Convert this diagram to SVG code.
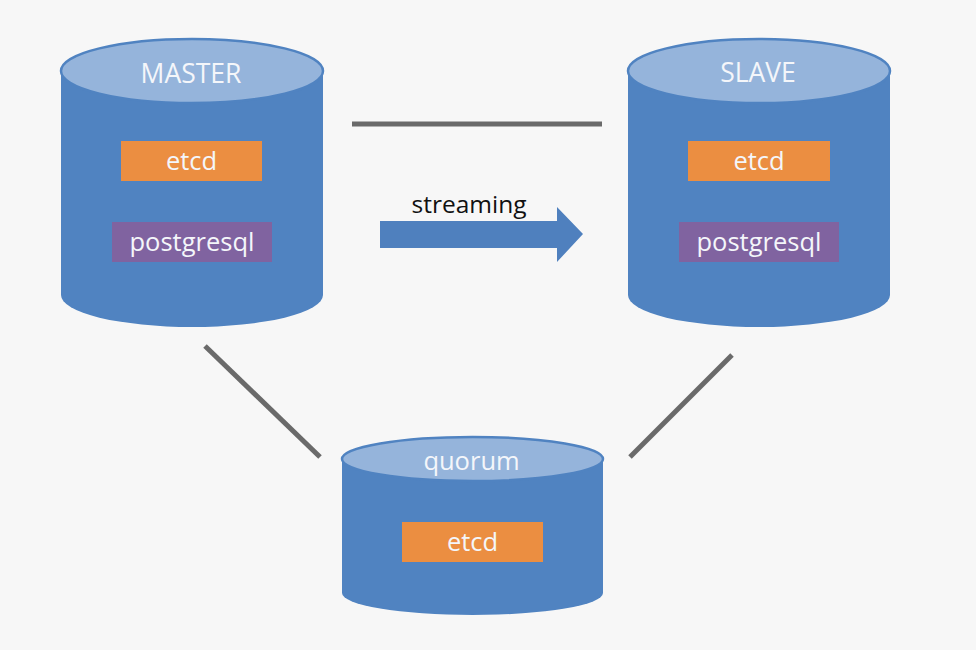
<svg xmlns="http://www.w3.org/2000/svg" width="976" height="650" viewBox="0 0 976 650">
<style>
.body{fill:#5083C1;}
.top{fill:#95B4DB;stroke:#5083C1;stroke-width:2.5;}
.etcd{fill:#EB8E41;}
.pg{fill:#8063A0;}
.lbl{font-family:"Open Sans","Liberation Sans",sans-serif;font-size:25.5px;fill:#F4F6FA;text-anchor:middle;}
.big{font-size:26.5px;}
.conn{stroke:#6A6A6A;stroke-width:5;fill:none;}
</style>
<rect width="976" height="650" fill="#F7F7F7"/>
<g id="connectors">
<line class="conn" x1="352" y1="124" x2="602" y2="124"/>
<line class="conn" x1="205" y1="346" x2="320" y2="457"/>
<line class="conn" x1="732" y1="355" x2="630" y2="457"/>
<polygon points="380,221 557,221 557,207 583,234 557,262 557,248 380,248" fill="#4F80BE"/>
<text x="469" y="213" font-family="Open Sans, Liberation Sans, sans-serif" font-size="24.5" fill="#111" text-anchor="middle">streaming</text>
</g>
<g id="master">
<path class="body" d="M61,71 L61,295 A131,32 0 0 0 323,295 L323,71 Z"/>
<ellipse class="top" cx="192" cy="71" rx="131" ry="32"/>
<text class="lbl big" x="191" y="83">MASTER</text>
<rect class="etcd" x="121" y="141" width="141" height="40"/>
<text class="lbl" x="191.5" y="170">etcd</text>
<rect class="pg" x="112" y="222" width="160" height="40"/>
<text class="lbl" x="192" y="251">postgresql</text>
</g>
<g id="slave">
<path class="body" d="M628,71 L628,295 A131,32 0 0 0 890,295 L890,71 Z"/>
<ellipse class="top" cx="759" cy="71" rx="131" ry="32"/>
<text class="lbl big" x="758" y="82">SLAVE</text>
<rect class="etcd" x="688" y="141" width="142" height="40"/>
<text class="lbl" x="759" y="170">etcd</text>
<rect class="pg" x="679" y="222" width="160" height="40"/>
<text class="lbl" x="759" y="251">postgresql</text>
</g>
<g id="quorum">
<path class="body" d="M342,459 L342,593 A130.5,22 0 0 0 603,593 L603,459 Z"/>
<ellipse class="top" cx="472.5" cy="459" rx="130.5" ry="22"/>
<text class="lbl" x="471.5" y="470">quorum</text>
<rect class="etcd" x="402" y="522" width="141" height="40"/>
<text class="lbl" x="472.5" y="551">etcd</text>
</g>
</svg>
